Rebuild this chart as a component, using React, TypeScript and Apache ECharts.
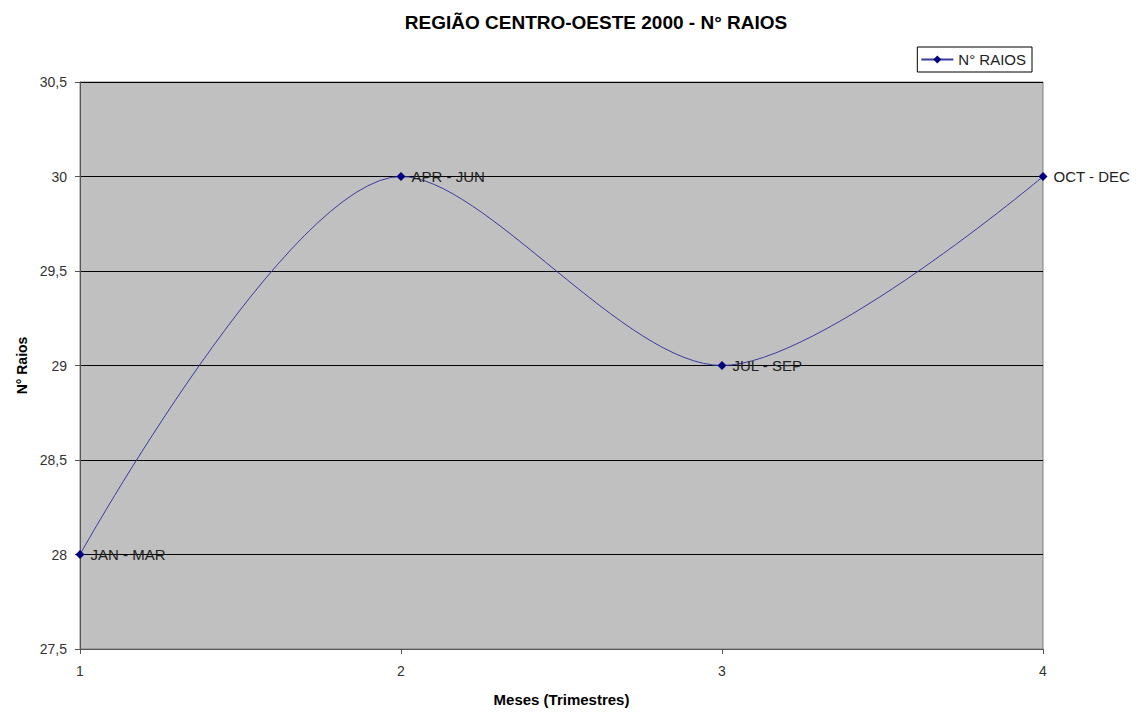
import React, { useEffect, useRef } from "react";
import * as echarts from "echarts";

const xValues = [1, 2, 3, 4];
const raios = [28, 30, 29, 30];
const pointLabels = ["JAN - MAR", "APR - JUN", "JUL - SEP", "OCT - DEC"];
const title = "REGIÃO CENTRO-OESTE 2000 - N° RAIOS";
const seriesName = "N° RAIOS";
const yName = "N° Raios";
const xName = "Meses (Trimestres)";

const FONT = "'Liberation Sans', Arial, sans-serif";

export default function App() {
  const ref = useRef<HTMLDivElement>(null);
  useEffect(() => {
    if (!ref.current) return;
    const chart = echarts.init(ref.current, undefined, { renderer: "svg" });
    chart.setOption({
      animation: false,
      backgroundColor: "#ffffff",
      textStyle: { fontFamily: FONT },
      title: {
        text: title,
        left: 591,
        textAlign: "center",
        top: 8,
        textStyle: { fontFamily: FONT, fontSize: 19, fontWeight: "bold", color: "#000" },
      },
      legend: {
        right: 112,
        top: 47,
        data: [seriesName],
        backgroundColor: "#ffffff",
        borderColor: "#000",
        borderWidth: 1,
        borderRadius: 0,
        padding: [5, 6, 5, 3],
        itemWidth: 32,
        itemHeight: 10,
        itemGap: 4,
        textStyle: { fontFamily: FONT, fontSize: 15, color: "#222" },
      },
      grid: {
        left: 80,
        right: 101,
        top: 82,
        bottom: 67,
        show: true,
        backgroundColor: "#c0c0c0",
        borderColor: "#808080",
        borderWidth: 1,
      },
      xAxis: {
        type: "value",
        min: 1,
        max: 4,
        interval: 1,
        name: xName,
        nameLocation: "middle",
        nameGap: 43,
        nameTextStyle: { fontFamily: FONT, fontSize: 15, fontWeight: "bold", color: "#000" },
        axisLine: { show: true, onZero: false, lineStyle: { color: "#555", width: 1 } },
        axisTick: { show: true, length: 5, lineStyle: { color: "#555" } },
        axisLabel: { fontFamily: FONT, fontSize: 14, color: "#333", margin: 15 },
        splitLine: { show: false },
      },
      yAxis: {
        type: "value",
        min: 27.5,
        max: 30.5,
        interval: 0.5,
        name: yName,
        nameLocation: "middle",
        nameGap: 51,
        nameTextStyle: { fontFamily: FONT, fontSize: 14, fontWeight: "bold", color: "#000" },
        axisLine: { show: true, lineStyle: { color: "#555", width: 1 } },
        axisTick: { show: true, length: 5, lineStyle: { color: "#555" } },
        axisLabel: {
          fontFamily: FONT,
          fontSize: 14,
          color: "#333",
          margin: 13,
          formatter: (v: number) => String(v).replace(".", ","),
        },
        splitLine: { show: true, lineStyle: { color: "#000", width: 1 } },
      },
      series: [
        {
          name: seriesName,
          type: "line",
          data: xValues.map((x, i) => [x, raios[i]]),
          smooth: 0.3,
          symbol: "diamond",
          symbolSize: 9,
          lineStyle: { color: "#3a3aa0", width: 1 },
          itemStyle: { color: "#000080" },
          label: {
            show: true,
            position: "right",
            distance: 6,
            fontFamily: FONT,
            fontSize: 15,
            color: "#222",
            formatter: (p: any) => pointLabels[p.dataIndex],
          },
        },
      ],
    });
    return () => chart.dispose();
  }, []);
  return <div ref={ref} style={{ width: 1144, height: 716, margin: -8 }} />;
}
